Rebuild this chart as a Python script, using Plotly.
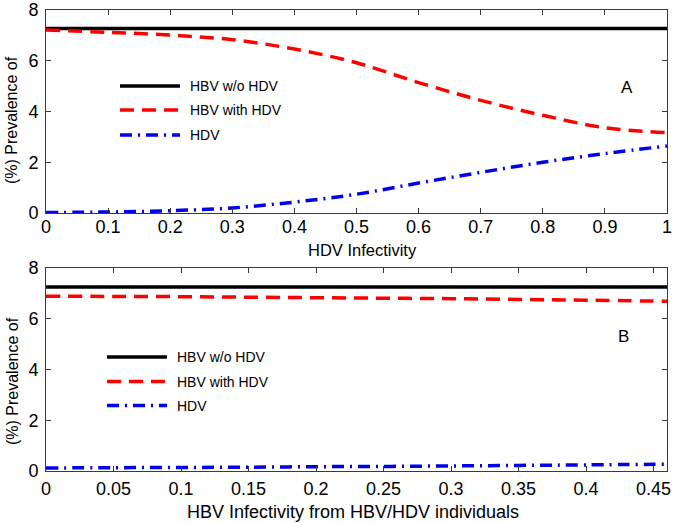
import plotly.graph_objects as go

# ---------------- data ----------------
x_a = [0, 0.1, 0.2, 0.3, 0.4, 0.5, 0.6, 0.7, 0.8, 0.9, 1.0]
hbv_wo_a = [7.27] * len(x_a)
hbv_with_a = [7.21, 7.12, 7.01, 6.83, 6.46, 5.92, 5.14, 4.44, 3.85, 3.36, 3.17]
hdv_a = [0.02, 0.04, 0.09, 0.20, 0.43, 0.74, 1.18, 1.60, 2.00, 2.34, 2.64]

x_b = [0, 0.05, 0.1, 0.15, 0.2, 0.25, 0.3, 0.35, 0.4, 0.46]
hbv_wo_b = [7.25] * len(x_b)
hbv_with_b = [6.89, 6.88, 6.87, 6.85, 6.83, 6.81, 6.79, 6.76, 6.73, 6.69]
hdv_b = [0.12, 0.13, 0.14, 0.15, 0.17, 0.18, 0.20, 0.22, 0.24, 0.27]

series_names = ["HBV w/o HDV", "HBV with HDV", "HDV"]
x_title_a = "HDV Infectivity"
x_title_b = "HBV Infectivity from HBV/HDV individuals"
y_title = "(%) Prevalence of"

# ---------------- styles ----------------
W, H = 675, 523
ML, MR, MT, MB = 46, 8, 10, 52
PW, PH = W - ML - MR, H - MT - MB
FONT = "Liberation Sans, Arial, sans-serif"
styles = [
    dict(color="black", width=3.5, dash="solid"),
    dict(color="#ff0000", width=3.5, dash="14px,8px"),
    dict(color="#0000ee", width=3.5, dash="12px,6px,2px,6px"),
]


def px(xp):
    return (xp - ML) / PW


def py(yp):
    return (H - MB - yp) / PH


fig = go.Figure()
for xs, ys_list, xa, ya in [
    (x_a, [hbv_wo_a, hbv_with_a, hdv_a], "x", "y"),
    (x_b, [hbv_wo_b, hbv_with_b, hdv_b], "x2", "y2"),
]:
    for name, ys, st in zip(series_names, ys_list, styles):
        fig.add_trace(go.Scatter(x=xs, y=ys, mode="lines", name=name,
                                 line=dict(shape="spline", **st),
                                 xaxis=xa, yaxis=ya, showlegend=False))

axis_common = dict(showline=True, linecolor="#3a3a3a", linewidth=1, mirror="allticks",
                   ticks="inside", ticklen=5, tickcolor="#3a3a3a", showgrid=False,
                   zeroline=False, automargin=False,
                   tickfont=dict(family=FONT, size=18, color="black"))

fig.update_layout(
    width=W, height=H,
    margin=dict(l=ML, r=MR, t=MT, b=MB, autoexpand=False),
    plot_bgcolor="white", paper_bgcolor="white",
    font=dict(family=FONT, color="black"),
    xaxis=dict(range=[0, 1], dtick=0.1, anchor="y", domain=[0, 1],
               ticklabelstandoff=-3, **axis_common),
    yaxis=dict(range=[0, 8], dtick=2, anchor="x", domain=[py(213), 1],
               ticklabelstandoff=3, **axis_common),
    xaxis2=dict(range=[0, 0.46], dtick=0.05, anchor="y2", domain=[0, 1],
                ticklabelstandoff=1, **axis_common),
    yaxis2=dict(range=[0, 8], dtick=2, anchor="x2", domain=[0, py(268)],
                ticklabelstandoff=3, **axis_common),
)

ann = []
shapes = []


def add_text(text, xp, yp, size, xanchor="center", angle=0):
    ann.append(dict(text=text, x=px(xp), y=py(yp), xref="paper", yref="paper",
                    xanchor=xanchor, yanchor="middle", showarrow=False,
                    textangle=angle, font=dict(size=size)))


# axis titles
add_text(x_title_a, 362, 250, 16.5)
add_text(x_title_b, 353, 512, 18)
add_text(y_title, 12, 120, 16, angle=-90)
add_text(y_title, 12, 381, 16, angle=-90)
# panel letters
add_text("A", 627, 87, 17)
add_text("B", 623, 336, 17)

# legends
for (lx0, lx1, tx, rows) in [(120, 180, 188, [86, 110, 135]),
                             (107, 167, 175, [357, 381.5, 405.5])]:
    for name, st, ry in zip(series_names, styles, rows):
        shapes.append(dict(type="line", xref="paper", yref="paper",
                           x0=px(lx0), x1=px(lx1), y0=py(ry), y1=py(ry),
                           line=dict(color=st["color"], width=st["width"], dash=st["dash"])))
        add_text(name, tx, ry, 14, xanchor="left")

fig.update_layout(annotations=ann, shapes=shapes)
fig.write_html("out.html", config={"displayModeBar": False},
               post_script="document.body.style.margin='0';")
